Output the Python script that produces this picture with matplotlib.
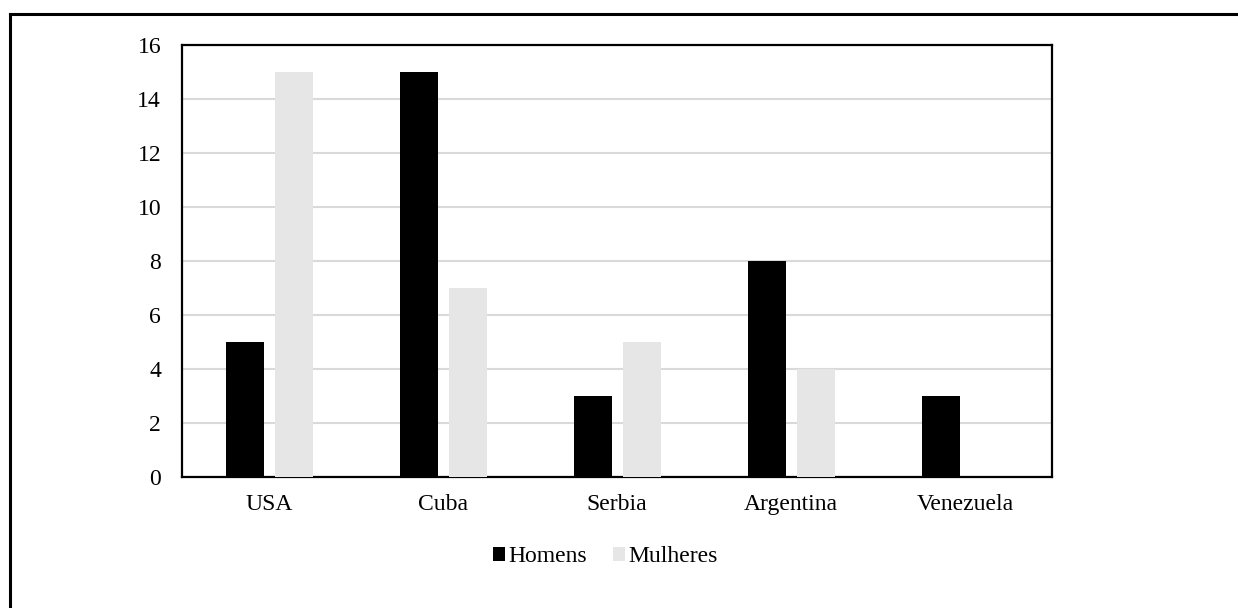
import matplotlib.pyplot as plt
import numpy as np
from matplotlib.lines import Line2D

plt.rcParams['font.family'] = ['Liberation Serif', 'DejaVu Serif']

countries = ["USA", "Cuba", "Serbia", "Argentina", "Venezuela"]
homens = [5, 15, 3, 8, 3]
mulheres = [15, 7, 5, 4, 0]
yticks = [0, 2, 4, 6, 8, 10, 12, 14, 16]

fig = plt.figure(figsize=(12.38, 6.08), dpi=100)
ax = fig.add_axes([182 / 1238, 1 - 477 / 608, (1052 - 182) / 1238, (477 - 45) / 608])

x = np.arange(len(countries))
w = 0.22
ax.bar(x - 0.14, homens, w, color="black", label="Homens", zorder=3)
ax.bar(x + 0.145, mulheres, w, color="#e6e6e6", label="Mulheres", zorder=3)

ax.set_xlim(-0.5, len(countries) - 0.5)
ax.set_ylim(0, 16)
ax.set_yticks(yticks)
ax.set_xticks(x)
ax.set_xticklabels(countries)
ax.tick_params(axis="both", length=0, labelsize=17)
ax.tick_params(axis="x", pad=12)
ax.tick_params(axis="y", pad=15)
ax.grid(axis="y", color="#d9d9d9", linewidth=1.5, zorder=0)
for s in ax.spines.values():
    s.set_linewidth(1.6)
    s.set_color("black")

ax.legend(loc="center", bbox_to_anchor=(0.487, -0.185), ncol=2, frameon=False,
          fontsize=17, handlelength=0.5, handleheight=0.5, handletextpad=0.15,
          columnspacing=1.1)

# outer frame (left and top edges only)
fig.add_artist(Line2D([10 / 1238, 10 / 1238], [0, 1 - 14 / 608], color="black",
                      linewidth=2.2, transform=fig.transFigure))
fig.add_artist(Line2D([10 / 1238, 1], [1 - 14 / 608, 1 - 14 / 608], color="black",
                      linewidth=2.2, transform=fig.transFigure))

fig.savefig("out.png", dpi=100)
